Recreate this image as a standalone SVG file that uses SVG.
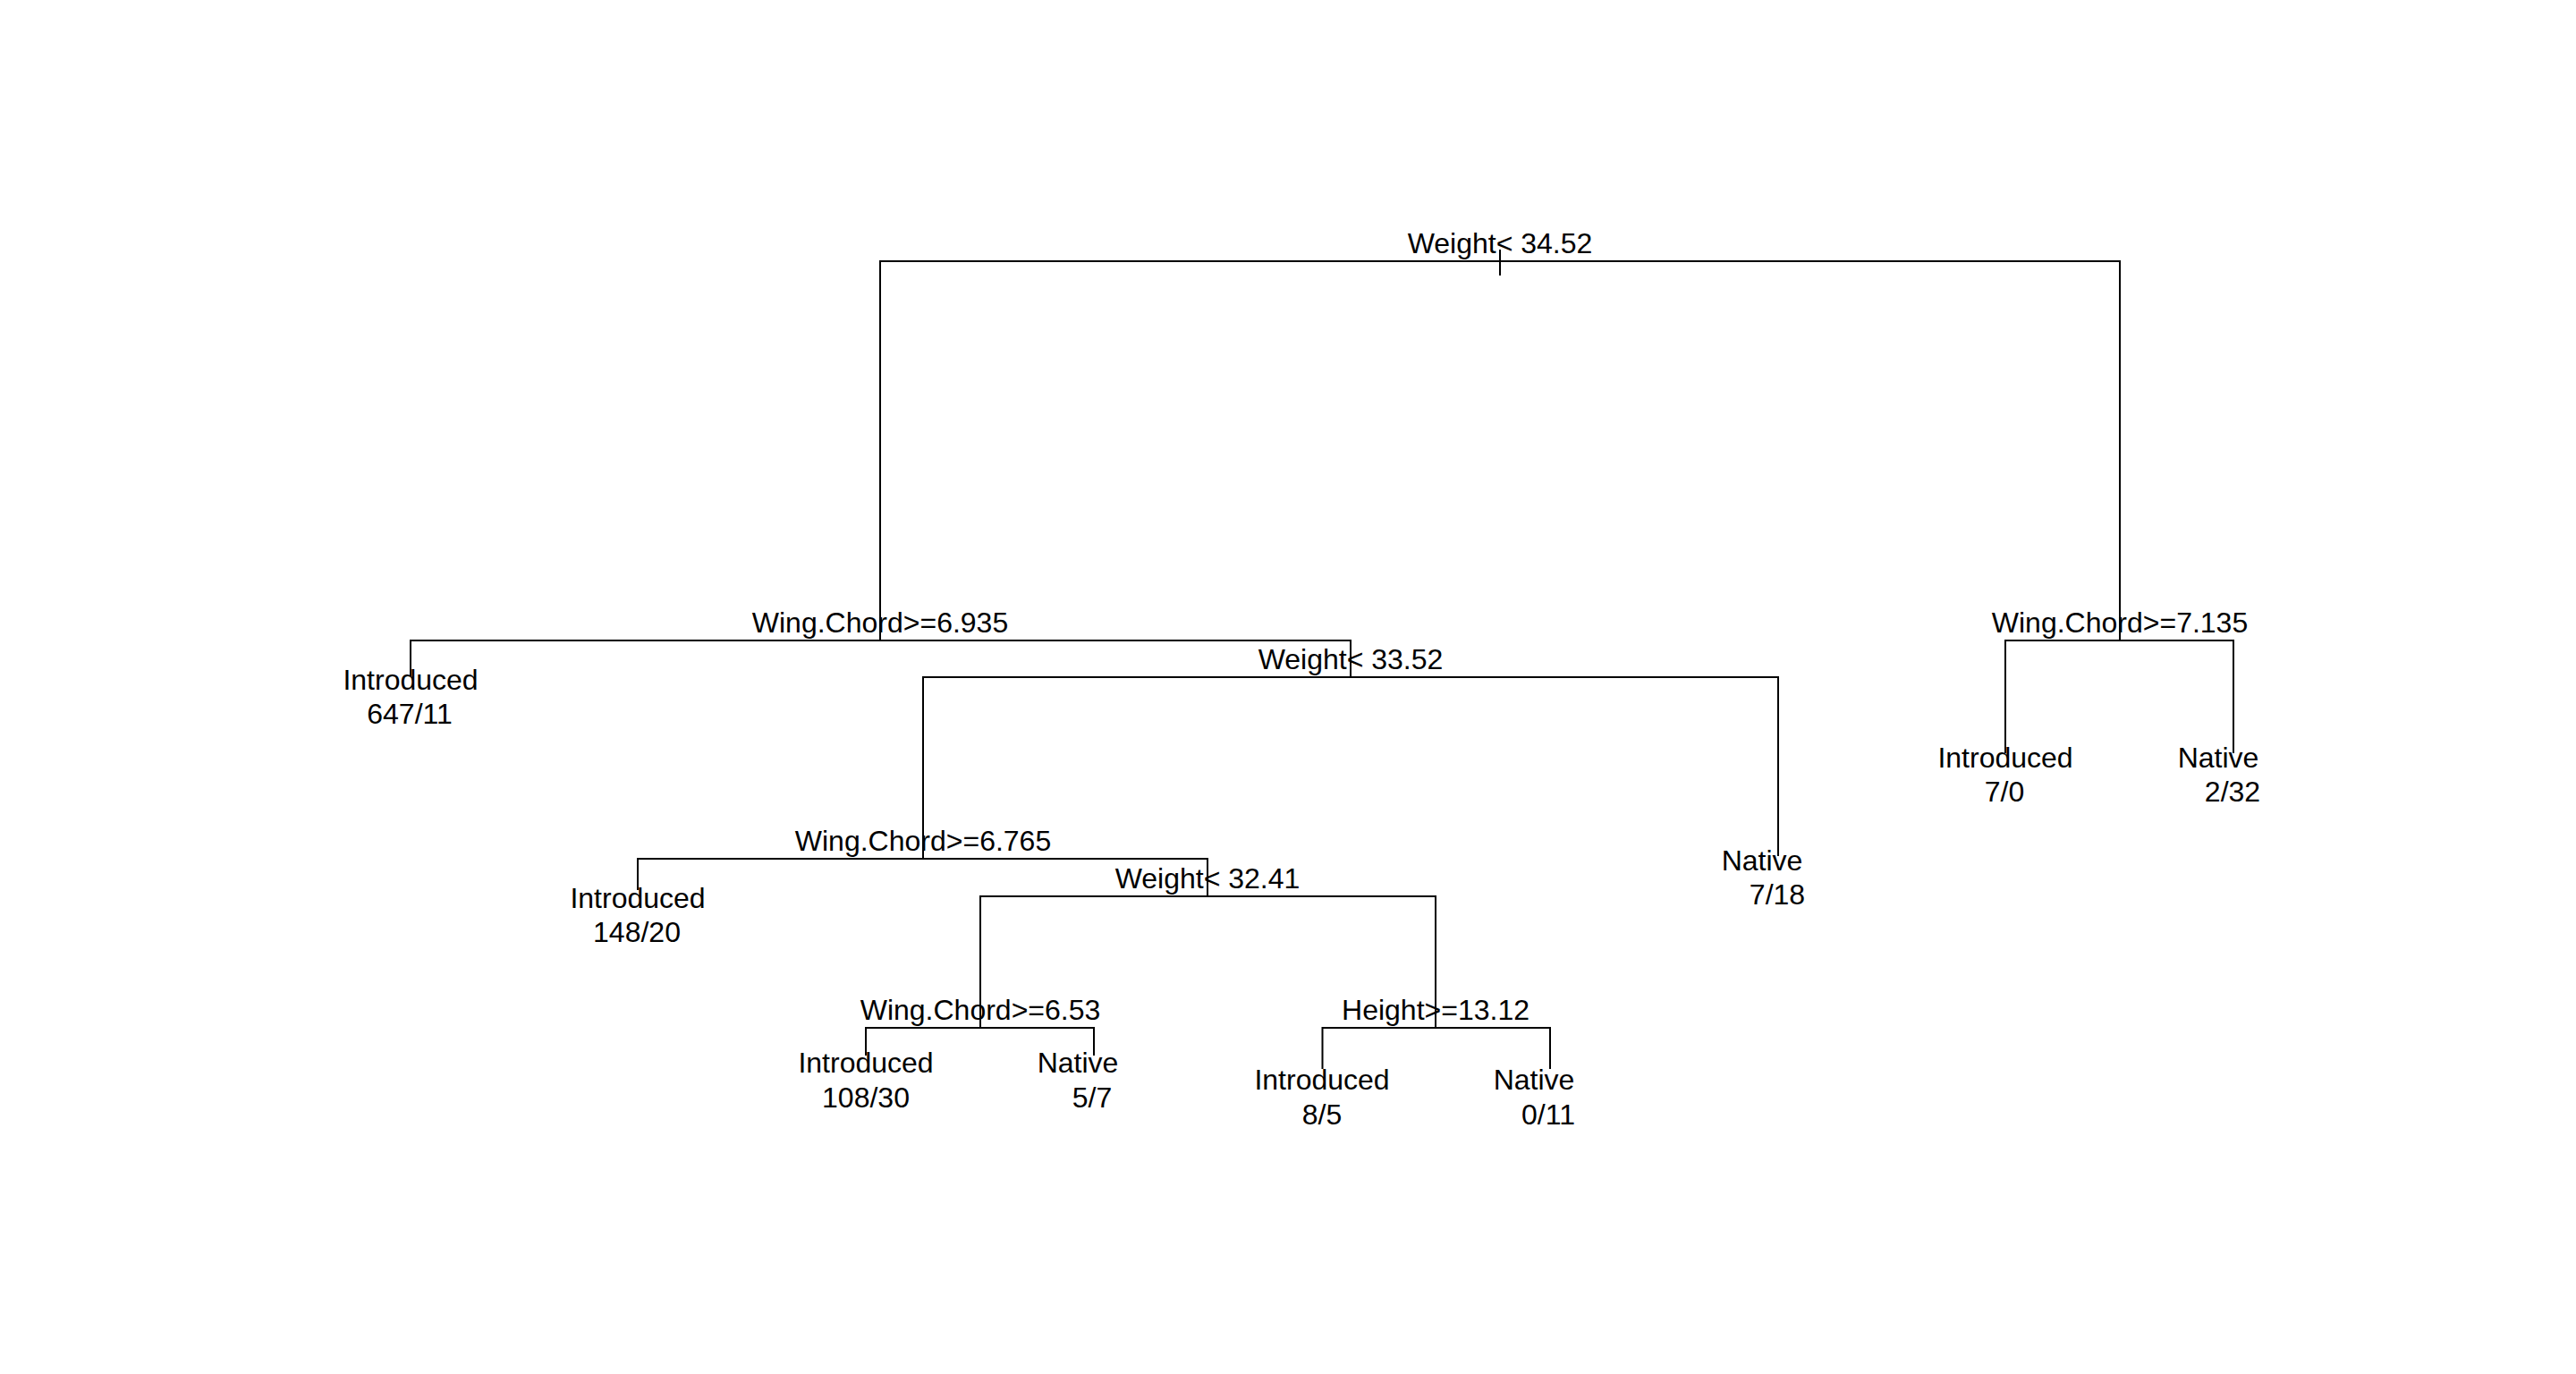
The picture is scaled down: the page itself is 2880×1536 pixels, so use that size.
<svg xmlns="http://www.w3.org/2000/svg" width="2880" height="1536" viewBox="0 0 2880 1536">
<style>
  .t { font-family: "Liberation Sans", Arial, sans-serif; font-size: 32px; fill: #000; text-anchor: middle; }
  .c { fill: none; stroke: #000; stroke-width: 2; }
</style>
<rect width="2880" height="1536" fill="#fff"/>
<g id="connectors" class="c">
  <path d="M1677,279 V308"/>
  <path d="M984,716 V292 H2370 V716"/>
  <path d="M459,756 V716 H1510 V757"/>
  <path d="M2242,842 V716 H2497 V842"/>
  <path d="M1032,960 V757 H1988 V957"/>
  <path d="M713,995 V960 H1350 V1002"/>
  <path d="M1096,1149 V1002 H1605 V1149"/>
  <path d="M968,1180 V1149 H1223 V1180"/>
  <path d="M1478.5,1195 V1149 H1733 V1195"/>
</g>
<g id="n_root"><text class="t" x="1677" y="283">Weight&lt; 34.52</text></g>
<g id="n_wc6935"><text class="t" x="984" y="707">Wing.Chord&gt;=6.935</text></g>
<g id="n_wc7135"><text class="t" x="2370" y="707">Wing.Chord&gt;=7.135</text></g>
<g id="n_w3352"><text class="t" x="1510" y="748">Weight&lt; 33.52</text></g>
<g id="n_wc6765"><text class="t" x="1032" y="951">Wing.Chord&gt;=6.765</text></g>
<g id="n_w3241"><text class="t" x="1350" y="993">Weight&lt; 32.41</text></g>
<g id="n_wc653"><text class="t" x="1096" y="1140">Wing.Chord&gt;=6.53</text></g>
<g id="n_h1312"><text class="t" x="1605" y="1140">Height&gt;=13.12</text></g>
<g id="leaf_647_11"><text class="t" x="459" y="771">Introduced</text><text class="t" x="458" y="809">647/11</text></g>
<g id="leaf_7_0"><text class="t" x="2242" y="858">Introduced</text><text class="t" x="2241" y="896">7/0</text></g>
<g id="leaf_2_32"><text class="t" x="2480" y="858">Native</text><text class="t" x="2496" y="896">2/32</text></g>
<g id="leaf_7_18"><text class="t" x="1970" y="973">Native</text><text class="t" x="1987" y="1011">7/18</text></g>
<g id="leaf_148_20"><text class="t" x="713" y="1015">Introduced</text><text class="t" x="712" y="1053">148/20</text></g>
<g id="leaf_108_30"><text class="t" x="968" y="1199">Introduced</text><text class="t" x="968" y="1238">108/30</text></g>
<g id="leaf_5_7"><text class="t" x="1205" y="1199">Native</text><text class="t" x="1221" y="1238">5/7</text></g>
<g id="leaf_8_5"><text class="t" x="1478" y="1218">Introduced</text><text class="t" x="1478" y="1257">8/5</text></g>
<g id="leaf_0_11"><text class="t" x="1715" y="1218">Native</text><text class="t" x="1731" y="1257">0/11</text></g>
</svg>
